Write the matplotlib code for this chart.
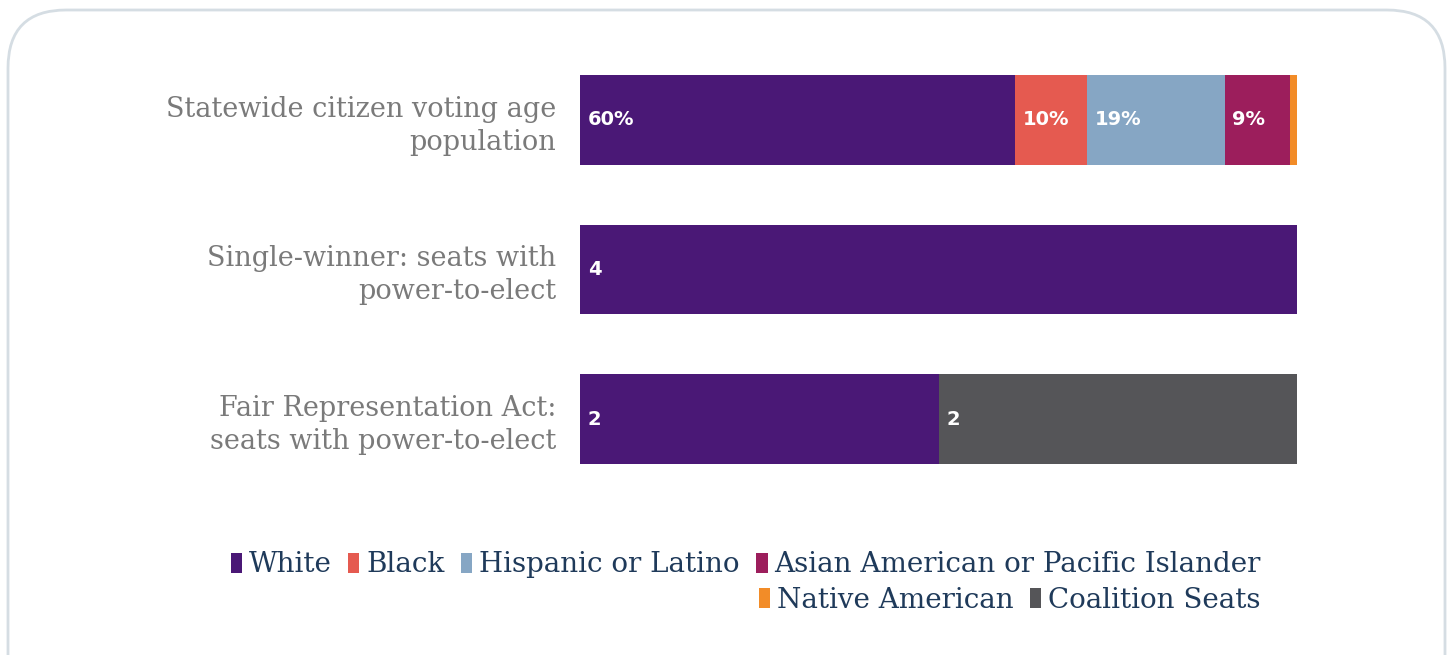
import matplotlib.pyplot as plt
import numpy as np
from matplotlib.patches import FancyBboxPatch, Patch

categories = ['Statewide citizen voting age\npopulation',
              'Single-winner: seats with\npower-to-elect',
              'Fair Representation Act:\nseats with power-to-elect']
groups = ['White', 'Black', 'Hispanic or Latino',
          'Asian American or Pacific Islander', 'Native American', 'Coalition Seats']
white = [60, 4, 2]
black = [10, 0, 0]
hispanic = [19, 0, 0]
asian = [9, 0, 0]
native = [1, 0, 0]
coalition = [0, 0, 2]
label_fmt = ['{:d}%', '{:d}', '{:d}']

colors = ['#4a1876', '#e55a50', '#86a6c4', '#9c1e5c', '#f28c28', '#555558']

series = np.array([white, black, hispanic, asian, native, coalition], dtype=float)
totals = series.sum(axis=0)
shares = series / totals

fig = plt.figure(figsize=(14.53, 6.55), dpi=100)

# rounded frame
frame = FancyBboxPatch((8 / 1453, -0.1), 1437 / 1453, 1.1 - 10 / 655,
                       boxstyle='round,pad=0,rounding_size=0.04',
                       transform=fig.transFigure, facecolor='white',
                       edgecolor='#d5dde3', linewidth=2, mutation_aspect=1453 / 655,
                       zorder=-5)
fig.patches.append(frame)

ax = fig.add_axes([580 / 1453, 1 - 494 / 655, 717 / 1453, 449 / 655])
ax.set_zorder(2)
ax.set_facecolor('none')
y = np.arange(len(categories))
left = np.zeros(len(categories))
for i, g in enumerate(groups):
    ax.barh(y, shares[i], left=left, height=0.6, color=colors[i], label=g)
    for j in range(len(categories)):
        v = int(series[i, j])
        if v > 0 and shares[i, j] > 0.05:
            ax.text(left[j] + 0.011, y[j], label_fmt[j].format(v), color='white',
                    fontsize=14, fontweight='bold', va='center', ha='left',
                    family='DejaVu Sans')
    left += shares[i]

ax.set_xlim(0, 1)
ax.set_ylim(2.5, -0.5)
ax.set_yticks(y)
ax.set_yticklabels(categories, family='DejaVu Serif', fontsize=19.5, color='#7a7a7a',
                   linespacing=1.28)
ax.tick_params(axis='y', length=0, pad=17)
ax.set_xticks([])
for s in ax.spines.values():
    s.set_visible(False)

handles = [Patch(facecolor=c, edgecolor='none') for c in colors]
leg_kw = dict(frameon=False, prop={'family': 'DejaVu Serif', 'size': 20},
              handlelength=0.4, handleheight=0.7, handletextpad=0.25,
              columnspacing=0.6, labelcolor='#1f3a5a', borderaxespad=0)
leg1 = fig.legend(handles[:4], groups[:4], loc='center right', ncol=4,
                  bbox_to_anchor=(1272 / 1453, 1 - 565 / 655), **leg_kw)
leg2 = fig.legend(handles[4:], groups[4:], loc='center right', ncol=2,
                  bbox_to_anchor=(1272 / 1453, 1 - 600 / 655), **leg_kw)

fig.savefig('out.png', dpi=100)
